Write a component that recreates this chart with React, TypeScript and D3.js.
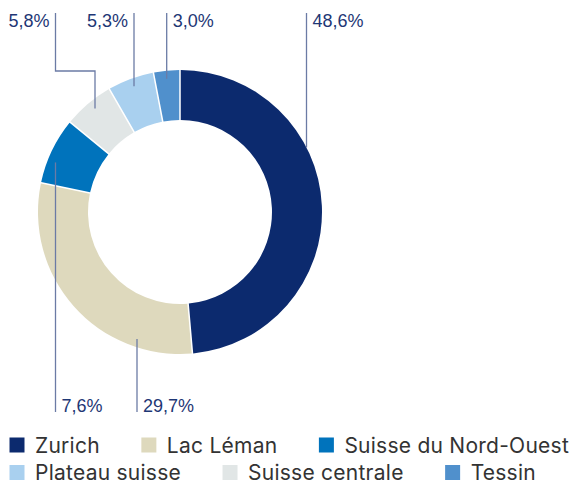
import { useEffect, useRef } from 'react'
import { select, pie, arc } from 'd3'

const regions = ['Zurich', 'Lac Léman', 'Suisse du Nord-Ouest', 'Suisse centrale', 'Plateau suisse', 'Tessin']
const shares = [48.6, 29.7, 7.6, 5.8, 5.3, 3.0]
const colors = ['#0c2a6e', '#ded9bd', '#0073bc', '#e1e6e6', '#a9d0ef', '#5090cc']
const legendOrder = ['Zurich', 'Lac Léman', 'Suisse du Nord-Ouest', 'Plateau suisse', 'Suisse centrale', 'Tessin']

// leader line layout, same order as regions
const leaderX = [306.5, 137, 55.5, 95, 134, 166.7]
const labelSide = ['top', 'bottom', 'bottom', 'top', 'top', 'top']
const anchorUp = [true, false, true, true, true, true]
const leaderR = [142, 134, 134, 134, 134, 134]
const textAnchor = ['start', 'start', 'start', 'end', 'end', 'start']

function App() {
  const svg_ref = useRef<SVGSVGElement>(null)
  const width = 570,
        height = 486
  const cx = 180,
        cy = 212,
        outerR = 142,
        innerR = 92
  const topY = 13,
        bottomY = 412

  useEffect(() => {
    document.body.style.margin = '0'
    const svg = select(svg_ref.current)
    svg.selectAll('*').remove()
    svg.attr('width', width)
      .attr('height', height)
      .attr('viewBox', `0 0 ${width} ${height}`)
      .style('display', 'block')
      .style('font-family', '"Liberation Sans", Arial, sans-serif')

    const arcs = pie<number>().sort(null).value(d => d)(shares)
    const arcGen = arc<any>().innerRadius(innerR).outerRadius(outerR).padAngle(0.009)

    svg.append('g')
      .attr('transform', `translate(${cx},${cy})`)
      .selectAll('path')
      .data(arcs)
      .join('path')
      .attr('d', arcGen)
      .attr('fill', (d, i) => colors[i])

    // leader lines and percentage labels
    const lab = svg.append('g')
    shares.forEach((v, i) => {
      const x = leaderX[i]
      const r = leaderR[i]
      const dy = Math.sqrt(Math.max(0, r * r - (x - cx) * (x - cx)))
      const top = labelSide[i] === 'top'
      const ay = anchorUp[i] ? cy - dy : cy + dy
      let pts: [number, number][]
      let lineX = x
      if (regions[i] === 'Suisse centrale') {
        lineX = 55.5
        pts = [[lineX, topY], [lineX, 71], [x, 71], [x, ay]]
      } else {
        pts = top ? [[x, topY], [x, ay]] : [[x, ay], [x, bottomY]]
      }
      lab.append('polyline')
        .attr('points', pts.map(p => p.join(',')).join(' '))
        .attr('fill', 'none')
        .attr('stroke', '#6b7ba5')
        .attr('stroke-width', 1.3)
      lab.append('text')
        .attr('x', textAnchor[i] === 'start' ? lineX + 6 : lineX - 6)
        .attr('y', top ? 26.5 : 411.5)
        .attr('text-anchor', textAnchor[i])
        .attr('font-size', 18)
        .attr('fill', '#1e3775')
        .text(v.toFixed(1).replace('.', ',') + '%')
    })

    // legend, flowing left to right
    const leg = svg.append('g')
      .style('font-family', 'Inter, "Liberation Sans", sans-serif')
    let lx = 9.5,
        ly = 437.5
    legendOrder.forEach(name => {
      const i = regions.indexOf(name)
      const item = leg.append('g')
      item.append('rect')
        .attr('width', 15)
        .attr('height', 15)
        .attr('fill', colors[i])
      const t = item.append('text')
        .attr('x', 25.5)
        .attr('y', 15)
        .attr('font-size', 21)
        .attr('letter-spacing', 0.25)
        .attr('fill', '#333')
        .text(name)
      const w = 25.5 + (t.node() as SVGTextElement).getComputedTextLength()
      if (lx + w > width) {
        lx = 9.5
        ly += 27.5
      }
      item.attr('transform', `translate(${lx},${ly})`)
      lx += w + 41.5
    })
  }, [])

  return (
    <>
      <svg ref={svg_ref}></svg>
    </>
  )
}

export default App
